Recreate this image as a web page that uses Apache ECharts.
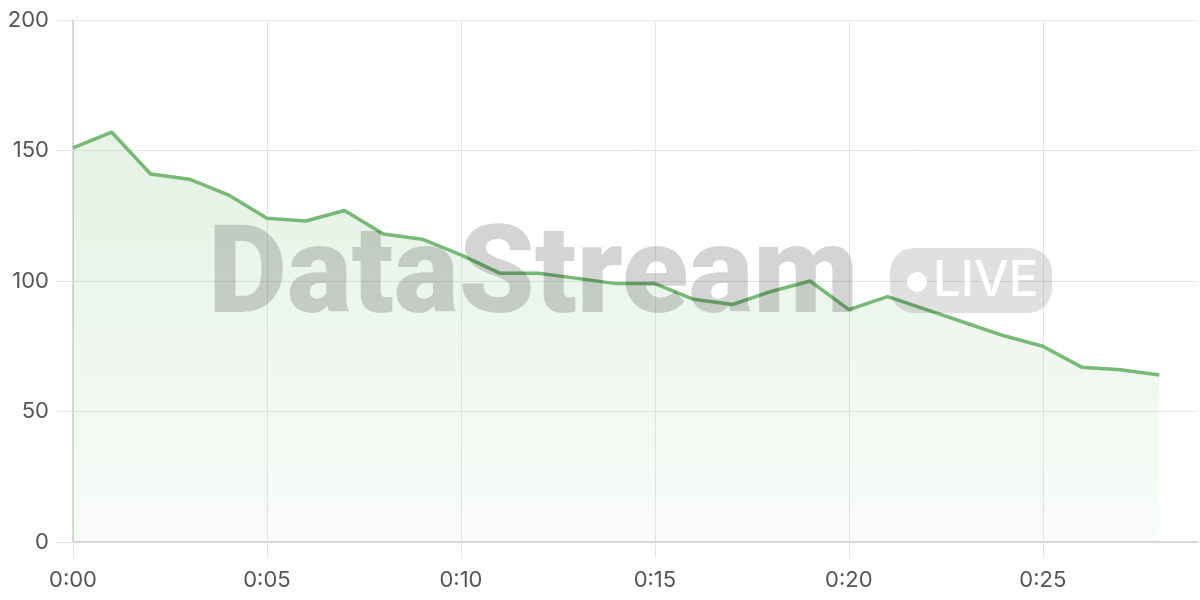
<!DOCTYPE html>
<html>
<head>
<meta charset="utf-8">
<script src="https://cdn.jsdelivr.net/npm/echarts@6/dist/echarts.min.js"></script>
<style>
  html, body { margin: 0; padding: 0; background: #fff; }
  #main { width: 1200px; height: 600px; }
</style>
</head>
<body>
<div id="main"></div>
<script>
// time labels, one per minute (the axis runs one step past the last point)
var times = ['0:00','0:01','0:02','0:03','0:04','0:05','0:06','0:07','0:08','0:09',
  '0:10','0:11','0:12','0:13','0:14','0:15','0:16','0:17','0:18','0:19',
  '0:20','0:21','0:22','0:23','0:24','0:25','0:26','0:27','0:28','0:29'];
// values
var values = [151, 157, 141, 139, 133, 124, 123, 127, 118, 116,
  110, 103, 103, 101, 99, 99, 93, 91, 96, 100,
  89, 94, 89, 84, 79, 75, 67, 66, 64];
var yTicks = [0, 50, 100, 150, 200];

var lineColor = '#76ba76';
var labelFont = 'Inter, "Noto Sans", sans-serif';

var chart = echarts.init(document.getElementById('main'));
var option = {
  animation: false,
  grid: { left: 73, right: 2, top: 20, bottom: 58 },
  xAxis: {
    type: 'category',
    data: times,
    boundaryGap: false,
    axisLine: { lineStyle: { color: '#cfcfcf', width: 1.5 } },
    axisTick: { show: true, length: 16, interval: 4, lineStyle: { color: '#e6e6e6' } },
    axisLabel: { interval: 4, margin: 27, color: '#555', fontSize: 22, fontFamily: labelFont },
    splitLine: { show: true, interval: 4, lineStyle: { color: '#e6e6e6', width: 1 } }
  },
  yAxis: {
    type: 'value',
    min: yTicks[0],
    max: yTicks[yTicks.length - 1],
    interval: 50,
    axisLine: { show: true, lineStyle: { color: '#cfcfcf', width: 1.5 } },
    axisTick: { show: true, length: 16, lineStyle: { color: '#e6e6e6' } },
    axisLabel: { margin: 24, color: '#555', fontSize: 22, fontFamily: labelFont },
    splitLine: { lineStyle: { color: '#e6e6e6', width: 1 } }
  },
  series: [{
    type: 'line',
    data: values,
    symbol: 'none',
    lineStyle: { color: lineColor, width: 3.5 },
    areaStyle: {
      color: new echarts.graphic.LinearGradient(0, 0, 0, 1, [
        { offset: 0, color: 'rgba(116,185,116,0.28)' },
        { offset: 1, color: 'rgba(116,185,116,0.06)' }
      ])
    }
  }],
  // watermark
  graphic: [
    {
      type: 'text', z: 100, left: 208, top: 220,
      style: {
        text: 'DataStream',
        font: '900 122px Roboto, Inter, sans-serif',
        fill: 'rgba(0,0,0,0.17)'
      }
    },
    {
      type: 'rect', z: 100,
      shape: { x: 890, y: 248, width: 162, height: 65, r: 24 },
      style: { fill: 'rgba(0,0,0,0.12)' }
    },
    {
      type: 'circle', z: 101,
      shape: { cx: 917, cy: 282, r: 10 },
      style: { fill: '#fff' }
    },
    {
      type: 'text', z: 101, left: 933, top: 257,
      style: {
        text: 'LIVE',
        font: '500 49px Inter, "Noto Sans", sans-serif',
        fill: '#fff'
      }
    }
  ]
};
chart.setOption(option);
</script>
</body>
</html>
